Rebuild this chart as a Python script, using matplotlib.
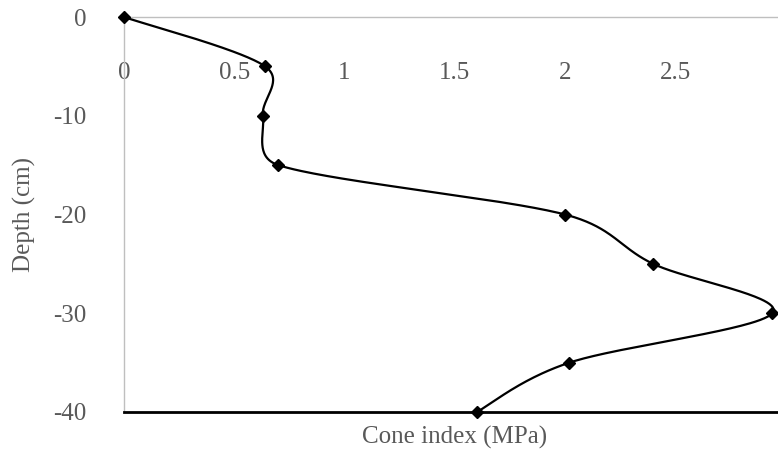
import numpy as np
import matplotlib
matplotlib.use("Agg")
import matplotlib.pyplot as plt

# Data
depth_cm = [0, -5, -10, -15, -20, -25, -30, -35, -40]
cone_index_mpa = [0.0, 0.64, 0.63, 0.70, 2.00, 2.40, 2.94, 2.02, 1.60]
x_ticks = [0, 0.5, 1, 1.5, 2, 2.5]
x_tick_labels = ["0", "0.5", "1", "1.5", "2", "2.5"]
y_ticks = [0, -10, -20, -30, -40]
y_tick_labels = ["0", "-10", "-20", "-30", "-40"]
x_title = "Cone index (MPa)"
y_title = "Depth (cm)"


def excel_smooth(xs, ys, sx, sy, n=60):
    """Bezier smoothing similar to Excel's smoothed lines: Catmull-Rom
    handles (1/6) clamped to half the segment length; computed in
    display-proportional units."""
    P = np.column_stack([np.asarray(xs, float) * sx, np.asarray(ys, float) * sy])
    m = len(P)
    out = []
    for i in range(m - 1):
        p0 = P[i - 1] if i > 0 else P[i]
        p1 = P[i]
        p2 = P[i + 1]
        p3 = P[i + 2] if i + 2 < m else P[i + 1]
        d12 = np.linalg.norm(p2 - p1)
        d02 = np.linalg.norm(p2 - p0)
        d13 = np.linalg.norm(p3 - p1)
        f0 = 1 / 6.0
        f1 = 1 / 6.0
        if d02 / 6.0 >= d12 / 2.0 and d02 > 0:
            f0 = d12 / (2.0 * d02)
        if d13 / 6.0 >= d12 / 2.0 and d13 > 0:
            f1 = d12 / (2.0 * d13)
        c1 = p1 + (p2 - p0) * f0
        c2 = p2 - (p3 - p1) * f1
        t = np.linspace(0, 1, n)[:, None]
        seg = ((1 - t) ** 3) * p1 + 3 * ((1 - t) ** 2) * t * c1 + 3 * (1 - t) * t ** 2 * c2 + t ** 3 * p2
        out.append(seg if i == 0 else seg[1:])
    out = np.vstack(out)
    return out[:, 0] / sx, out[:, 1] / sy


plt.rcParams["font.family"] = ["Liberation Serif", "DejaVu Serif"]

W, H = 778, 458
fig = plt.figure(figsize=(W / 100, H / 100), dpi=100)
left_px, right_px, top_px, bottom_px = 124, 785.5, 17, 412
ax = fig.add_axes([left_px / W, 1 - bottom_px / H, (right_px - left_px) / W, (bottom_px - top_px) / H])

ax.set_xlim(0, 3)
ax.set_ylim(-40, 0)

sx_, sy_ = 220.5, 9.875
lx, ly = excel_smooth(cone_index_mpa, depth_cm, sx_, sy_)
ax.plot(lx, ly, color="black", lw=1.6, solid_capstyle="round", zorder=3, clip_on=False)
ax.plot(cone_index_mpa, depth_cm, linestyle="none", marker="D", color="black",
        markersize=6.5, zorder=4, clip_on=False)

gray = "#595959"
ax.spines["right"].set_visible(False)
ax.spines["left"].set_color("#bfbfbf")
ax.spines["left"].set_linewidth(1.0)
ax.spines["top"].set_color("#bfbfbf")
ax.spines["top"].set_linewidth(1.0)
ax.spines["bottom"].set_color("black")
ax.spines["bottom"].set_linewidth(2.0)

ax.set_xticks(x_ticks)
ax.set_xticklabels(x_tick_labels)
ax.set_yticks(y_ticks)
ax.set_yticklabels(y_tick_labels)
ax.tick_params(axis="x", top=False, bottom=False, labeltop=True, labelbottom=False,
               pad=-48, labelsize=18, labelcolor=gray, length=0)
ax.tick_params(axis="y", left=False, length=0, pad=27, labelsize=18, labelcolor=gray)

fig.text((left_px + right_px) / 2 / W, 1 - 437 / H, x_title, ha="center", va="center",
         fontsize=18, color=gray)
fig.text(24 / W, 1 - 215 / H, y_title, ha="center", va="center", rotation=90,
         fontsize=18, color=gray)

fig.savefig("out.png", dpi=100)
